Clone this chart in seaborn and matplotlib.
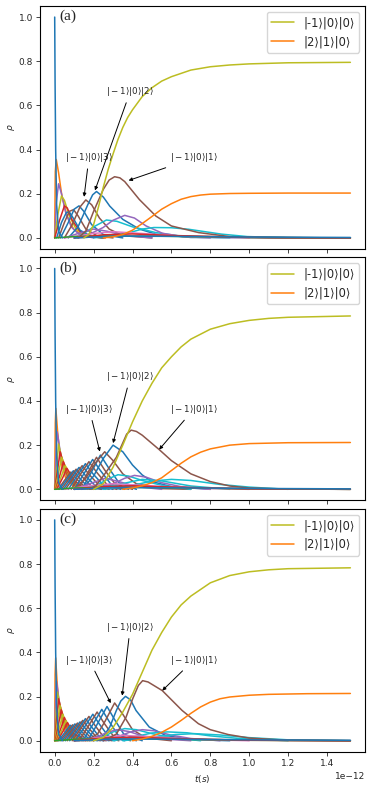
import matplotlib

matplotlib.use("Agg")
import matplotlib.pyplot as plt
import seaborn as sns

sns.set_theme(style="white", palette="tab10")
plt.rcParams.update({
    "axes.edgecolor": "black",
    "axes.linewidth": 0.8,
    "xtick.bottom": True,
    "ytick.left": True,
    "xtick.major.size": 3,
    "ytick.major.size": 3,
    "xtick.major.width": 0.6,
    "ytick.major.width": 0.6,
    "xtick.labelsize": 6.5,
    "ytick.labelsize": 6.5,
    "axes.labelsize": 6.5,
})
plt.rcParams["font.family"] = ["DejaVu Sans"]

# time in units of 1e-12 s
LEGEND_LABELS = ["|-1⟩|0⟩|0⟩", "|2⟩|1⟩|0⟩"]
PANEL_TAGS = ["(a)", "(b)", "(c)"]
NOTE_TEXT = [r"$|-1\rangle|0\rangle|3\rangle$", r"$|-1\rangle|0\rangle|2\rangle$",
             r"$|-1\rangle|0\rangle|1\rangle$"]

# ---- panel (a) ----
A_OLIVE_T = [0.15, 0.175, 0.2, 0.225, 0.25, 0.275, 0.3, 0.325, 0.35, 0.375, 0.4, 0.45,
             0.5, 0.55, 0.6, 0.7, 0.8, 0.9, 1.0, 1.2, 1.52]
A_OLIVE_R = [0, 0.015, 0.06, 0.14, 0.23, 0.31, 0.38, 0.445, 0.5, 0.545, 0.58, 0.64,
             0.68, 0.71, 0.73, 0.76, 0.775, 0.783, 0.788, 0.793, 0.795]
A_ORANGE_T = [0.25, 0.3, 0.35, 0.4, 0.45, 0.5, 0.55, 0.6, 0.65, 0.7, 0.75, 0.8, 0.9,
              1.0, 1.2, 1.52]
A_ORANGE_R = [0, 0.005, 0.015, 0.035, 0.065, 0.097, 0.13, 0.155, 0.175, 0.187, 0.194,
              0.198, 0.201, 0.202, 0.203, 0.203]
A_CURVES = [
    ("C1", [0, 0.003, 0.008, 0.02, 0.037, 0.063, 0.097, 0.147, 0.25], [0, 0.3, 0.355, 0.295, 0.19, 0.1, 0.04, 0.01, 0]),
    ("C4", [0, 0.008, 0.02, 0.035, 0.055, 0.085, 0.13, 0.2], [0, 0.16, 0.245, 0.2, 0.12, 0.05, 0.012, 0]),
    ("C8", [0, 0.015, 0.035, 0.05, 0.075, 0.11, 0.16, 0.24], [0, 0.1, 0.19, 0.17, 0.1, 0.04, 0.01, 0]),
    ("C3", [0, 0.025, 0.05, 0.065, 0.09, 0.13, 0.19, 0.26], [0, 0.08, 0.145, 0.135, 0.08, 0.03, 0.005, 0]),
    ("C0", [0.01, 0.035, 0.06, 0.075, 0.095, 0.13, 0.19, 0.25], [0, 0.07, 0.115, 0.118, 0.09, 0.035, 0.005, 0]),
    ("C5", [0.02, 0.05, 0.075, 0.097, 0.12, 0.16, 0.22, 0.3], [0, 0.07, 0.12, 0.128, 0.1, 0.04, 0.008, 0]),
    ("C0", [0.03, 0.07, 0.1, 0.125, 0.15, 0.19, 0.25, 0.35], [0, 0.07, 0.13, 0.145, 0.12, 0.06, 0.015, 0]),
    ("C5", [0.05, 0.09, 0.13, 0.16, 0.19, 0.23, 0.28, 0.35, 0.5], [0, 0.06, 0.14, 0.172, 0.15, 0.09, 0.04, 0.01, 0]),
    ("C0", [0.07, 0.12, 0.17, 0.195, 0.215, 0.25, 0.283, 0.35, 0.435, 0.52, 0.7, 1.52],
     [0, 0.05, 0.15, 0.195, 0.21, 0.185, 0.144, 0.084, 0.04, 0.017, 0.002, 0]),
    ("C9", [0.1, 0.15, 0.2, 0.266, 0.32, 0.4, 0.52, 0.65, 0.9], [0, 0.02, 0.05, 0.081, 0.075, 0.05, 0.024, 0.008, 0]),
    ("C4", [0.12, 0.18, 0.249, 0.3, 0.36, 0.41, 0.47, 0.554, 0.655, 0.8], [0, 0.017, 0.047, 0.08, 0.102, 0.09, 0.054, 0.021, 0.006, 0]),
    ("C9", [0.2, 0.3, 0.385, 0.45, 0.51, 0.6, 0.689, 0.858, 0.99, 1.2, 1.52], [0, 0.01, 0.024, 0.04, 0.047, 0.046, 0.039, 0.017, 0.006, 0.001, 0]),
    ("C4", [0.05, 0.12, 0.2, 0.27, 0.35, 0.5], [0, 0.02, 0.04, 0.03, 0.012, 0]),
    ("C6", [0.05, 0.2, 0.3, 0.45, 0.7, 1.0], [0, 0.02, 0.028, 0.02, 0.005, 0]),
    ("C2", [0, 0.1, 0.3, 0.6, 1.0, 1.52], [0, 0.006, 0.01, 0.007, 0.002, 0]),
    ("C7", [0.1, 0.3, 0.5, 0.8, 1.2, 1.52], [0, 0.008, 0.011, 0.006, 0.001, 0]),
    ("C3", [0.1, 0.25, 0.4, 0.6, 1.0, 1.52], [0, 0.014, 0.018, 0.011, 0.002, 0]),
    ("C5", [0.12, 0.16, 0.2, 0.25, 0.28, 0.308, 0.335, 0.36, 0.435, 0.52, 0.6, 0.74, 0.9, 1.1, 1.52],
     [0, 0.03, 0.12, 0.22, 0.262, 0.277, 0.272, 0.255, 0.174, 0.099, 0.054, 0.024, 0.006, 0.001, 0]),
    ("C0", [0.1, 0.3, 0.6, 1.0, 1.52], [0, 0.008, 0.007, 0.004, 0.002]),
    ("C0", [0, 0.002, 0.005, 0.01, 0.02, 0.04], [1.0, 0.7, 0.4, 0.15, 0.03, 0]),
]
A_NOTE_XY = [(0.151, 0.186), (0.207, 0.215), (0.38, 0.26)]
A_NOTE_TXT = [(0.176, 0.363), (0.388, 0.662), (0.717, 0.362)]

# ---- panel (b) ----
B_OLIVE_T = [0.2, 0.25, 0.3, 0.35, 0.4, 0.45, 0.5, 0.55, 0.6, 0.65, 0.7, 0.8, 0.9, 1.0, 1.1, 1.2, 1.52]
B_OLIVE_R = [0, 0.025, 0.1, 0.2, 0.305, 0.4, 0.48, 0.55, 0.6, 0.645, 0.68, 0.725, 0.75, 0.765, 0.774, 0.779, 0.785]
B_ORANGE_T = [0.35, 0.4, 0.45, 0.5, 0.55, 0.6, 0.65, 0.7, 0.75, 0.8, 0.9, 1.0, 1.2, 1.52]
B_ORANGE_R = [0, 0.006, 0.016, 0.03, 0.052, 0.085, 0.118, 0.147, 0.168, 0.183, 0.2, 0.207, 0.211, 0.212]
B_CURVES = [
    ("C1", [0, 0.003, 0.006, 0.015, 0.03, 0.06, 0.12], [0, 0.3, 0.366, 0.26, 0.13, 0.04, 0]),
    ("C4", [0, 0.006, 0.013, 0.025, 0.045, 0.08, 0.15], [0, 0.15, 0.26, 0.19, 0.09, 0.03, 0]),
    ("C8", [0, 0.01, 0.02, 0.034, 0.055, 0.09, 0.16], [0, 0.1, 0.205, 0.15, 0.075, 0.025, 0]),
    ("C3", [0, 0.015, 0.028, 0.043, 0.065, 0.1, 0.17], [0, 0.09, 0.17, 0.125, 0.065, 0.02, 0]),
    ("C8", [0.002, 0.02, 0.036, 0.052, 0.075, 0.11, 0.18], [0, 0.075, 0.145, 0.105, 0.055, 0.018, 0]),
    ("C3", [0.005, 0.027, 0.045, 0.06, 0.085, 0.12, 0.19], [0, 0.065, 0.125, 0.09, 0.048, 0.015, 0]),
    ("C8", [0.008, 0.033, 0.054, 0.07, 0.095, 0.13, 0.2], [0, 0.056, 0.108, 0.08, 0.042, 0.013, 0]),
    ("C3", [0.01, 0.04, 0.063, 0.08, 0.105, 0.14, 0.21], [0, 0.05, 0.095, 0.07, 0.037, 0.012, 0]),
    ("C5", [0.018, 0.05, 0.083, 0.113, 0.155, 0.24], [0, 0.04, 0.078, 0.046, 0.011, 0]),
    ("C0", [0.025, 0.06, 0.096, 0.128, 0.17, 0.26], [0, 0.042, 0.084, 0.05, 0.012, 0]),
    ("C5", [0.035, 0.072, 0.11, 0.143, 0.19, 0.28], [0, 0.046, 0.091, 0.055, 0.013, 0]),
    ("C0", [0.045, 0.085, 0.125, 0.16, 0.21, 0.3], [0, 0.05, 0.099, 0.06, 0.015, 0]),
    ("C5", [0.055, 0.1, 0.141, 0.178, 0.23, 0.32], [0, 0.055, 0.107, 0.066, 0.016, 0]),
    ("C0", [0.07, 0.115, 0.158, 0.195, 0.25, 0.34], [0, 0.06, 0.116, 0.072, 0.018, 0]),
    ("C5", [0.085, 0.13, 0.176, 0.215, 0.27, 0.36], [0, 0.065, 0.125, 0.078, 0.02, 0]),
    ("C0", [0.1, 0.15, 0.195, 0.235, 0.29, 0.38], [0, 0.07, 0.135, 0.085, 0.022, 0]),
    ("C5", [0.12, 0.17, 0.215, 0.255, 0.31, 0.4], [0, 0.075, 0.145, 0.09, 0.025, 0]),
    ("C0", [0.14, 0.19, 0.235, 0.275, 0.33, 0.42], [0, 0.08, 0.155, 0.1, 0.03, 0]),
    ("C5", [0.1, 0.16, 0.21, 0.257, 0.3, 0.35, 0.42, 0.55, 0.7], [0, 0.05, 0.12, 0.17, 0.13, 0.07, 0.025, 0.003, 0]),
    ("C0", [0.14, 0.2, 0.25, 0.3, 0.35, 0.4, 0.45, 0.5, 0.6, 0.8], [0, 0.06, 0.14, 0.2, 0.17, 0.11, 0.065, 0.035, 0.012, 0]),
    ("C9", [0.15, 0.22, 0.27, 0.325, 0.38, 0.45, 0.55, 0.7], [0, 0.02, 0.045, 0.066, 0.06, 0.04, 0.018, 0]),
    ("C4", [0.2, 0.3, 0.36, 0.41, 0.47, 0.55, 0.65, 0.8], [0, 0.025, 0.05, 0.063, 0.055, 0.03, 0.012, 0]),
    ("C4", [0.1, 0.18, 0.26, 0.33, 0.42, 0.55], [0, 0.025, 0.05, 0.035, 0.012, 0]),
    ("C9", [0.25, 0.4, 0.5, 0.6, 0.7, 0.85, 1.0, 1.2], [0, 0.018, 0.037, 0.045, 0.04, 0.022, 0.01, 0]),
    ("C9", [0.2, 0.32, 0.45, 0.55, 0.7, 0.9], [0, 0.02, 0.045, 0.038, 0.015, 0]),
    ("C6", [0.05, 0.2, 0.3, 0.45, 0.7, 1.0], [0, 0.018, 0.025, 0.018, 0.005, 0]),
    ("C2", [0, 0.1, 0.3, 0.6, 1.0, 1.52], [0, 0.006, 0.01, 0.007, 0.002, 0]),
    ("C7", [0.1, 0.3, 0.5, 0.8, 1.2, 1.52], [0, 0.008, 0.011, 0.006, 0.001, 0]),
    ("C3", [0.1, 0.25, 0.4, 0.6, 1.0, 1.52], [0, 0.012, 0.016, 0.01, 0.002, 0]),
    ("C5", [0.18, 0.215, 0.266, 0.317, 0.35, 0.37, 0.393, 0.42, 0.45, 0.537, 0.6, 0.7, 0.8, 0.9, 1.0, 1.2, 1.52],
     [0, 0.02, 0.08, 0.145, 0.21, 0.25, 0.268, 0.262, 0.245, 0.18, 0.13, 0.07, 0.035, 0.015, 0.006, 0.001, 0]),
    ("C0", [0.1, 0.3, 0.6, 1.0, 1.52], [0, 0.008, 0.007, 0.004, 0.002]),
    ("C0", [0, 0.002, 0.005, 0.01, 0.02, 0.04], [1.0, 0.7, 0.4, 0.15, 0.03, 0]),
]
B_NOTE_XY = [(0.232, 0.171), (0.30, 0.209), (0.537, 0.18)]
B_NOTE_TXT = [(0.178, 0.362), (0.388, 0.509), (0.714, 0.362)]

# ---- panel (c) ----
C_OLIVE_T = [0.2, 0.25, 0.3, 0.35, 0.4, 0.45, 0.5, 0.55, 0.6, 0.65, 0.7, 0.8, 0.9, 1.0, 1.1, 1.2, 1.52]
C_OLIVE_R = [0, 0.015, 0.06, 0.13, 0.21, 0.31, 0.41, 0.49, 0.56, 0.615, 0.655, 0.715, 0.748, 0.765, 0.774, 0.779, 0.783]
C_ORANGE_T = [0.4, 0.45, 0.5, 0.55, 0.6, 0.65, 0.7, 0.75, 0.8, 0.85, 0.9, 1.0, 1.1, 1.3, 1.52]
C_ORANGE_R = [0, 0.008, 0.02, 0.038, 0.062, 0.092, 0.124, 0.153, 0.175, 0.19, 0.198, 0.206, 0.21, 0.213, 0.214]
C_CURVES = [
    ("C1", [0, 0.002, 0.005, 0.012, 0.025, 0.05, 0.1], [0, 0.3, 0.375, 0.27, 0.13, 0.04, 0]),
    ("C4", [0, 0.004, 0.009, 0.02, 0.037, 0.065, 0.12], [0, 0.16, 0.27, 0.2, 0.1, 0.03, 0]),
    ("C8", [0, 0.007, 0.014, 0.027, 0.045, 0.075, 0.13], [0, 0.12, 0.22, 0.16, 0.08, 0.025, 0]),
    ("C3", [0, 0.01, 0.02, 0.033, 0.052, 0.085, 0.14], [0, 0.1, 0.19, 0.14, 0.07, 0.022, 0]),
    ("C8", [0.001, 0.014, 0.027, 0.04, 0.06, 0.095, 0.15], [0, 0.085, 0.16, 0.12, 0.06, 0.019, 0]),
    ("C3", [0.003, 0.019, 0.034, 0.047, 0.068, 0.1, 0.16], [0, 0.072, 0.14, 0.1, 0.052, 0.016, 0]),
    ("C8", [0.006, 0.025, 0.042, 0.055, 0.076, 0.11, 0.17], [0, 0.062, 0.12, 0.088, 0.046, 0.014, 0]),
    ("C3", [0.009, 0.031, 0.05, 0.063, 0.084, 0.12, 0.18], [0, 0.054, 0.105, 0.077, 0.04, 0.012, 0]),
    ("C8", [0.012, 0.037, 0.058, 0.071, 0.092, 0.13, 0.19], [0, 0.048, 0.092, 0.068, 0.035, 0.011, 0]),
    ("C3", [0.015, 0.043, 0.066, 0.079, 0.1, 0.14, 0.2], [0, 0.043, 0.082, 0.06, 0.031, 0.01, 0]),
    ("C0", [0.02, 0.052, 0.08, 0.105, 0.14, 0.22], [0, 0.037, 0.07, 0.045, 0.012, 0]),
    ("C5", [0.028, 0.062, 0.092, 0.118, 0.155, 0.235], [0, 0.038, 0.072, 0.046, 0.012, 0]),
    ("C0", [0.036, 0.072, 0.104, 0.131, 0.17, 0.25], [0, 0.039, 0.076, 0.048, 0.013, 0]),
    ("C5", [0.045, 0.083, 0.117, 0.145, 0.185, 0.265], [0, 0.041, 0.08, 0.05, 0.014, 0]),
    ("C0", [0.055, 0.095, 0.13, 0.16, 0.2, 0.28], [0, 0.044, 0.085, 0.053, 0.015, 0]),
    ("C5", [0.065, 0.107, 0.144, 0.175, 0.215, 0.295], [0, 0.047, 0.092, 0.057, 0.016, 0]),
    ("C0", [0.077, 0.12, 0.158, 0.19, 0.23, 0.31], [0, 0.05, 0.1, 0.062, 0.017, 0]),
    ("C5", [0.09, 0.134, 0.176, 0.208, 0.25, 0.33], [0, 0.055, 0.11, 0.068, 0.019, 0]),
    ("C0", [0.105, 0.152, 0.196, 0.23, 0.275, 0.36], [0, 0.06, 0.12, 0.075, 0.021, 0]),
    ("C5", [0.125, 0.173, 0.218, 0.252, 0.3, 0.39], [0, 0.066, 0.13, 0.082, 0.023, 0]),
    ("C0", [0.145, 0.195, 0.242, 0.278, 0.325, 0.42], [0, 0.072, 0.142, 0.09, 0.026, 0]),
    ("C0", [0.17, 0.222, 0.269, 0.305, 0.355, 0.45], [0, 0.08, 0.155, 0.1, 0.03, 0]),
    ("C5", [0.16, 0.22, 0.26, 0.308, 0.35, 0.4, 0.47, 0.6], [0, 0.03, 0.09, 0.171, 0.12, 0.05, 0.012, 0]),
    ("C0", [0.2, 0.25, 0.283, 0.317, 0.34, 0.364, 0.39, 0.418, 0.486, 0.57, 0.7, 0.9],
     [0, 0.02, 0.062, 0.137, 0.18, 0.201, 0.185, 0.137, 0.062, 0.024, 0.005, 0]),
    ("C9", [0.18, 0.25, 0.3, 0.36, 0.42, 0.5, 0.6, 0.75], [0, 0.018, 0.04, 0.055, 0.05, 0.032, 0.014, 0]),
    ("C4", [0.15, 0.22, 0.27, 0.32, 0.38, 0.45, 0.55, 0.7], [0, 0.018, 0.038, 0.05, 0.042, 0.022, 0.008, 0]),
    ("C4", [0.25, 0.33, 0.39, 0.45, 0.51, 0.6, 0.7, 0.85], [0, 0.02, 0.04, 0.05, 0.045, 0.025, 0.01, 0]),
    ("C9", [0.3, 0.42, 0.5, 0.58, 0.68, 0.8, 0.95, 1.2], [0, 0.02, 0.035, 0.04, 0.036, 0.022, 0.01, 0]),
    ("C9", [0.35, 0.5, 0.62, 0.72, 0.85, 1.0, 1.2, 1.52], [0, 0.015, 0.028, 0.032, 0.026, 0.014, 0.004, 0]),
    ("C6", [0.1, 0.25, 0.35, 0.5, 0.75, 1.0], [0, 0.016, 0.024, 0.018, 0.005, 0]),
    ("C2", [0, 0.1, 0.3, 0.6, 1.0, 1.52], [0, 0.006, 0.01, 0.007, 0.002, 0]),
    ("C7", [0.1, 0.3, 0.5, 0.8, 1.2, 1.52], [0, 0.008, 0.011, 0.006, 0.001, 0]),
    ("C3", [0.1, 0.25, 0.4, 0.6, 1.0, 1.52], [0, 0.012, 0.016, 0.01, 0.002, 0]),
    ("C5", [0.25, 0.317, 0.367, 0.401, 0.43, 0.452, 0.48, 0.553, 0.655, 0.739, 0.8, 0.892, 1.0, 1.2, 1.52],
     [0, 0.03, 0.107, 0.19, 0.25, 0.272, 0.266, 0.227, 0.137, 0.077, 0.05, 0.028, 0.012, 0.002, 0]),
    ("C0", [0.1, 0.3, 0.6, 1.0, 1.52], [0, 0.008, 0.007, 0.004, 0.002]),
    ("C0", [0, 0.002, 0.005, 0.01, 0.02, 0.04], [1.0, 0.7, 0.4, 0.15, 0.03, 0]),
]
C_NOTE_XY = [(0.288, 0.17), (0.347, 0.204), (0.553, 0.227)]
C_NOTE_TXT = [(0.178, 0.365), (0.388, 0.513), (0.714, 0.365)]

PANELS = [
    (A_CURVES, A_OLIVE_T, A_OLIVE_R, A_ORANGE_T, A_ORANGE_R, A_NOTE_XY, A_NOTE_TXT),
    (B_CURVES, B_OLIVE_T, B_OLIVE_R, B_ORANGE_T, B_ORANGE_R, B_NOTE_XY, B_NOTE_TXT),
    (C_CURVES, C_OLIVE_T, C_OLIVE_R, C_ORANGE_T, C_ORANGE_R, C_NOTE_XY, C_NOTE_TXT),
]
SCALE = 1e-12


def secs(ts):
    return [t * SCALE for t in ts]


fig, axes = plt.subplots(3, 1, figsize=(3.73, 7.93), dpi=100, sharex=True)
fig.subplots_adjust(left=0.107, right=0.979, top=0.9924, bottom=0.052, hspace=0.035)

for ax, tag, (curves, ot, orr, gt, gr, note_xy, note_txt) in zip(axes, PANEL_TAGS, PANELS):
    for color, ts, rs in curves:
        sns.lineplot(x=secs(ts), y=rs, ax=ax, color=color, lw=1.1, sort=False,
                     estimator=None)
    sns.lineplot(x=secs(ot), y=orr, ax=ax, color="C8", lw=1.1, sort=False,
                 estimator=None, label=LEGEND_LABELS[0])
    sns.lineplot(x=secs(gt), y=gr, ax=ax, color="C1", lw=1.1, sort=False,
                 estimator=None, label=LEGEND_LABELS[1])
    for txt, (tx, ty), (lx, ly) in zip(NOTE_TEXT, note_xy, note_txt):
        ax.annotate(txt, xy=(tx * SCALE, ty), xytext=(lx * SCALE, ly),
                    ha="center", va="center", fontsize=6.3,
                    arrowprops=dict(arrowstyle="-|>", color="black", lw=0.7,
                                    mutation_scale=5, shrinkA=1, shrinkB=0))
    ax.legend(loc="upper right", fontsize=8.3, handlelength=2.0)
    ax.text(0.06, 0.985, tag, transform=ax.transAxes, va="top", ha="left",
            fontsize=11, family="Liberation Serif")
    ax.set_ylabel(r"$\rho$", labelpad=1)
    ax.set_ylim(-0.05, 1.05)
    ax.set_xlim(-0.076e-12, 1.596e-12)
    ax.set_yticks([0.0, 0.2, 0.4, 0.6, 0.8, 1.0])
    ax.tick_params(length=3, pad=2)

axes[-1].set_xlabel(r"$t(s)$")
axes[-1].xaxis.get_offset_text().set_fontsize(6.5)

fig.savefig("out.png", dpi=100)
